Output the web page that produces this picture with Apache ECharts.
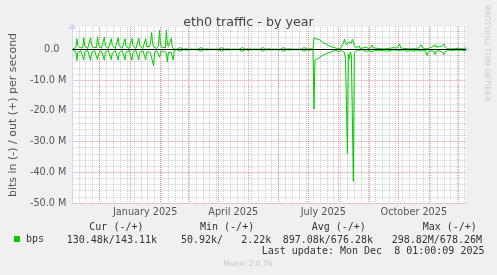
<!DOCTYPE html>
<html><head><meta charset="utf-8">
<script src="https://cdn.jsdelivr.net/npm/echarts@6/dist/echarts.min.js"></script>
<style>html,body{margin:0;padding:0;background:#f0f0f0}#c{width:497px;height:275px}</style>
</head><body><div id="c"></div>
<script>
// daily points, first point = 2024-11-04 00:00 UTC, values in Mbit/s
const firstDay = '2024-11-04T00:00:00Z';
// out (+), Nov 2024 - mid Feb 2025
const outA = [0.2,0.3,0.4,0.6,3.5,1.3,1.1,0.6,0.3,0.2,0.5,
  3.8,1.2,1.0,0.8,0.3,0.2,0.5,
  3.8,1.4,1.2,0.6,0.3,0.3,0.6,
  4.1,1.5,1.6,0.9,0.4,0.3,0.5,
  4.0,1.1,1.0,0.5,0.3,0.2,0.5,
  3.5,1.3,1.2,0.7,0.3,0.2,0.6,
  3.8,1.2,1.1,0.6,0.3,0.3,0.5,
  3.5,1.0,0.9,0.5,0.3,0.2,0.4,
  3.6,1.2,1.0,0.6,0.3,0.2,0.5,
  3.7,1.1,0.9,0.5,0.3,0.2,0.4,
  3.5,1.0,0.8,0.6,0.9,2.5,5.5,
  2.0,0.8,0.5,0.3,0.3,0.5,1.2,
  6.2,1.5,1.0,0.6,0.3,0.3,0.6,
  6.2,1.8,1.0,0.5,0.8,3.7,0.8,0.3,0.1];
const inA = [-0.3,-0.3,-0.5,-0.8,-3.6,-1.0,-1.1,-0.7,-0.4,-0.3,-0.6,
  -3.4,-0.9,-1.2,-0.6,-0.3,-0.3,-0.5,
  -3.5,-1.0,-0.9,-0.7,-0.4,-0.3,-0.6,
  -3.3,-1.4,-1.7,-1.0,-0.5,-0.3,-0.6,
  -3.5,-0.8,-0.9,-0.5,-0.3,-0.3,-0.5,
  -3.3,-1.2,-1.0,-0.6,-0.3,-0.3,-0.6,
  -3.5,-1.1,-0.9,-0.5,-0.3,-0.3,-0.5,
  -3.4,-0.9,-1.0,-0.6,-0.3,-0.2,-0.5,
  -3.5,-1.0,-0.9,-0.5,-0.3,-0.3,-0.6,
  -3.4,-1.0,-0.8,-0.5,-0.3,-0.3,-0.5,
  -3.3,-0.9,-0.7,-0.5,-0.8,-1.5,-2.0,
  -1.8,-5.3,-1.0,-0.5,-0.3,-0.5,-0.9,
  -2.5,-1.2,-0.8,-0.5,-0.3,-0.3,-0.8,
  -1.5,-4.0,-1.0,-0.6,-0.5,-1.0,-1.2,-3.5,-0.3];
// out (+), mid Feb - end Jun 2025 (quiet, weekly blips)
const outB = [0.1,0.1,0.1,0.1,0.2,0.6,0.1, 0.1,0.1,0.1,0.1,0.2,0.6,0.1,
  0.1,0.1,0.1,0.1,0.2,0.6,0.1, 0.1,0.1,0.1,0.1,0.2,0.6,0.1,
  0.1,0.1,0.1,0.1,0.2,0.6,0.1, 0.1,0.1,0.1,0.1,0.2,0.6,0.1,
  0.1,0.1,0.1,0.1,0.2,0.6,0.1, 0.1,0.1,0.1,0.1,0.2,0.6,0.1,
  0.1,0.1,0.1,0.1,0.2,0.6,0.1, 0.1,0.1,0.1,0.1,0.2,0.6,0.1,
  0.1,0.1,0.1,0.1,0.2,0.6,0.1, 0.1,0.1,0.1,0.1,0.2,0.6,0.1,
  0.1,0.1,0.1,0.1,0.2,0.6,0.1, 0.1,0.1,0.1,0.1,0.2,0.6,0.1,
  0.1,0.1,0.1,0.1,0.2,0.6,0.1, 0.1,0.1,0.1,0.1,0.2,0.6,0.1,
  0.1,0.1,0.1,0.1,0.2,0.6,0.1, 0.1,0.1,0.1,0.1,0.2,0.6,0.1,
  0.1,0.1,0.1,0.1,0.2,0.6,0.1, 0.1,0.1,0.1,0.1,0.2,0.6,0.1];
const inB = [-0.1,-0.1,-0.1,-0.1,-0.2,-0.6,-0.1, -0.1,-0.1,-0.1,-0.1,-0.2,-0.6,-0.1,
  -0.1,-0.1,-0.1,-0.1,-0.2,-0.6,-0.1, -0.1,-0.1,-0.1,-0.1,-0.2,-0.6,-0.1,
  -0.1,-0.1,-0.1,-0.1,-0.2,-0.6,-0.1, -0.1,-0.1,-0.1,-0.1,-0.2,-0.6,-0.1,
  -0.1,-0.1,-0.1,-0.1,-0.2,-0.6,-0.1, -0.1,-0.1,-0.1,-0.1,-0.2,-0.6,-0.1,
  -0.1,-0.1,-0.1,-0.1,-0.2,-0.6,-0.1, -0.1,-0.1,-0.1,-0.1,-0.2,-0.6,-0.1,
  -0.1,-0.1,-0.1,-0.1,-0.2,-0.6,-0.1, -0.1,-0.1,-0.1,-0.1,-0.2,-0.6,-0.1,
  -0.1,-0.1,-0.1,-0.1,-0.2,-0.6,-0.1, -0.1,-0.1,-0.1,-0.1,-0.2,-0.6,-0.1,
  -0.1,-0.1,-0.1,-0.1,-0.2,-0.6,-0.1, -0.1,-0.1,-0.1,-0.1,-0.2,-0.6,-0.1,
  -0.1,-0.1,-0.1,-0.1,-0.2,-0.6,-0.1, -0.1,-0.1,-0.1,-0.1,-0.2,-0.6,-0.1,
  -0.1,-0.1,-0.1,-0.1,-0.2,-0.6,-0.1, -0.1,-0.1,-0.1,-0.1,-0.2,-0.6,-0.1];
// out (+), end Jun - Dec 2025
const outC = [0.1,3.7,3.6,3.5,3.4,3.5,3.3,3.1,2.9,2.5,2.2,2.0,1.9,1.8,1.5,1.3,1.2,1.0,0.9,0.8,0.7,0.7,0.6,0.4,0.2,
  0.2,0.6,0.2,0.3,0.2,0.5,2.0,3.4,2.2,1.5,1.8,2.4,2.0,2.6,2.0,3.3,2.4,1.2,0.8,0.5,0.3,
  0.3,1.1,0.3,0.4,0.2,0.5,0.3,0.2,0.7,0.3,
  0.4,0.2,0.3,0.6,1.4,0.5,0.3,0.2,0.4,0.3,
  0.2,0.3,0.7,0.3,0.2,0.4,0.3,0.2,0.4,0.8,
  0.3,0.2,0.3,0.4,0.8,0.3,0.6,0.3,0.2,0.4,
  0.3,0.6,1.8,0.5,0.3,0.2,0.3,0.4,0.2,0.3,
  0.8,0.3,0.2,0.4,0.3,0.2,0.8,0.6,0.3,0.2,
  0.3,0.4,0.3,0.6,1.5,0.9,0.3,0.2,0.3,0.2,
  0.5,0.7,0.4,0.6,0.8,0.8,0.7,0.9,1.5,0.8,
  0.7,0.8,0.9,0.8,0.7,1.0,1.2,1.8,1.0,0.5,
  0.3,0.2,0.4,0.2,0.3,0.6,0.2,0.3,0.2,0.3,
  0.2,0.6,0.3,0.2,0.3,0.2,0.3,0.6,0.2,0.3];
const inC = [-0.1,-19.4,-3.5,-3.3,-3.1,-3.0,-2.6,-2.5,-2.3,-2.0,-1.9,-1.8,-1.6,-1.5,-1.3,-1.2,-1.1,-1.0,-1.0,-0.8,-0.6,-0.5,-0.4,-0.3,-0.2,
  -0.2,-0.6,-0.3,-0.2,-0.4,-0.3,-0.6,-1.0,-3.0,-18.0,-34.0,-1.5,-3.0,-0.8,-2.0,-22.0,-43.0,-1.2,-0.9,-0.6,-0.3,
  -0.3,-0.5,-0.2,-0.4,-0.3,-0.2,-0.4,-0.3,-0.7,-0.2,
  -0.3,-0.4,-0.2,-0.5,-0.8,-0.4,-0.2,-0.3,-0.2,-0.4,
  -0.3,-0.2,-0.7,-0.3,-0.2,-0.3,-0.4,-0.2,-0.3,-0.6,
  -0.3,-0.2,-0.4,-0.3,-0.6,-0.2,-0.6,-0.3,-0.2,-0.3,
  -0.4,-0.3,-0.8,-0.5,-0.3,-0.2,-0.3,-0.2,-0.4,-0.3,
  -0.7,-0.2,-0.3,-0.2,-0.4,-0.3,-0.6,-0.5,-0.2,-0.3,
  -0.2,-0.3,-0.4,-0.6,-0.9,-0.5,-0.3,-0.2,-0.3,-0.8,
  -2.0,-0.9,-0.5,-0.4,-0.4,-0.5,-0.4,-0.6,-1.7,-0.6,
  -0.4,-0.5,-0.4,-0.5,-0.4,-0.7,-1.0,-1.7,-0.9,-0.4,
  -0.3,-0.2,-0.3,-0.2,-0.3,-0.6,-0.2,-0.3,-0.2,-0.3,
  -0.2,-0.6,-0.3,-0.2,-0.3,-0.2,-0.3,-0.6,-0.2,-0.3];

const xLabels = ['January 2025','April 2025','July 2025','October 2025'];
const xLabelDates = ['2025-01-16T12:00:00Z','2025-04-16T00:00:00Z','2025-07-16T12:00:00Z','2025-10-16T12:00:00Z'];
const monthStarts = ['2024-12-01','2025-01-01','2025-02-01','2025-03-01','2025-04-01','2025-05-01','2025-06-01',
  '2025-07-01','2025-08-01','2025-09-01','2025-10-01','2025-11-01','2025-12-01'];
const yMajor = [-50,-40,-30,-20,-10,0];
const yMin = -50, yMax = 7.3;
const statHeads = ['Cur (-/+)','Min (-/+)','Avg (-/+)','Max (-/+)'];
const statVals = ['130.48k/143.11k','50.92k/   2.22k','897.08k/676.28k','298.82M/678.26M'];
const lastUpdate = 'Last update: Mon Dec  8 01:00:09 2025';

const outV = outA.concat(outB, outC), inV = inA.concat(inB, inC);
if (outV.length !== 400 || inV.length !== 400) throw new Error('len ' + outV.length + ' ' + inV.length);
const DAY = 86400000, t0 = Date.parse(firstDay);
const outData = outV.map((v, i) => [t0 + i * DAY, v]);
const inData = inV.map((v, i) => [t0 + i * DAY, v]);
const xMin = t0 - DAY / 2, xMax = xMin + 400 * DAY;
const monthTs = monthStarts.map(d => Date.parse(d + 'T00:00:00Z'));
const labelTs = xLabelDates.map(d => Date.parse(d));
const weekTs = [];
for (let t = Date.parse('2024-11-10T00:00:00Z'); t < xMax; t += 7 * DAY) weekTs.push(t);
const yMinor = [];
for (let v = -48; v <= 6; v += 2) if (v % 10 !== 0) yMinor.push(v);

const FONT = 'DejaVu Sans';
const MONO = 'DejaVu Sans Mono';
const red = 'rgba(222,79,79,0.6)', grey = 'rgba(143,143,143,0.45)', axisCol = '#CFD6F8';

const chart = echarts.init(document.getElementById('c'), null, {renderer: 'canvas'});
const gridPos = {left: 66, right: 31, top: 27, bottom: 72};
chart.setOption({
  animation: false,
  backgroundColor: '#f0f0f0',
  title: {text: 'eth0 traffic - by year', left: 'center', top: 11,
    textStyle: {fontFamily: FONT, fontSize: 12.7, fontWeight: 'normal', color: '#444'}},
  legend: {data: ['bps'], left: 14, top: 234, padding: 0, icon: 'rect', itemWidth: 6, itemHeight: 6, itemGap: 5,
    textStyle: {fontFamily: MONO, fontSize: 10, color: '#333', padding: [0, 0, 0, 1]}},
  grid: Object.assign({show: true, backgroundColor: '#ffffff', borderWidth: 0}, gridPos),
  xAxis: [
    {type: 'value', min: xMin, max: xMax, position: 'bottom',
      axisLine: {show: true, lineStyle: {color: axisCol}, symbol: ['none', 'arrow'], symbolSize: [7, 7], symbolOffset: [0, 4]},
      axisTick: {show: true, customValues: monthTs, length: 2, lineStyle: {color: red}},
      axisLabel: {customValues: labelTs, margin: 4, fontFamily: FONT, fontSize: 9.7, color: '#555',
        formatter: v => { const k = labelTs.indexOf(v); return k >= 0 ? xLabels[k] : ''; }},
      splitLine: {show: true, lineStyle: {color: red, type: [1, 1], width: 1}}, z: 3},
    {type: 'value', min: xMin, max: xMax, position: 'bottom', gridIndex: 0,
      axisLine: {show: false}, axisLabel: {show: false},
      axisTick: {show: false, customValues: weekTs},
      splitLine: {show: true, lineStyle: {color: grey, type: [1, 1], width: 1}}, z: 1}
  ],
  yAxis: [
    {type: 'value', min: yMin, max: yMax,
      name: 'bits in (-) / out (+) per second', nameLocation: 'middle', nameGap: 53, nameRotate: 90,
      nameTextStyle: {fontFamily: FONT, fontSize: 11, color: '#555'},
      axisLine: {show: true, lineStyle: {color: axisCol}, symbol: ['none', 'arrow'], symbolSize: [7, 7], symbolOffset: [0, 4]},
      axisTick: {show: false, customValues: yMajor},
      axisLabel: {customValues: yMajor, margin: 6, fontFamily: FONT, fontSize: 9.7, color: '#555',
        formatter: v => v === 0 ? '{z|0.0}' : v.toFixed(1) + ' M',
        rich: {z: {fontFamily: FONT, fontSize: 9.7, color: '#555', padding: [0, 7, 0, 0]}}},
      splitLine: {show: true, lineStyle: {color: red, type: [1, 1], width: 1}}, z: 3},
    {type: 'value', min: yMin, max: yMax, axisLine: {show: false}, axisLabel: {show: false},
      axisTick: {show: false, customValues: yMinor},
      splitLine: {show: true, lineStyle: {color: grey, type: [1, 1], width: 1}}, z: 1}
  ],
  series: [
    {name: 'bps_in', type: 'line', data: inData, showSymbol: false, symbol: 'none', z: 4,
      lineStyle: {color: '#00cc00', width: 1}, itemStyle: {color: '#00cc00'}},
    {name: 'bps', type: 'line', data: outData, showSymbol: false, symbol: 'none', z: 5,
      lineStyle: {color: '#00cc00', width: 1}, itemStyle: {color: '#00cc00'},
      markLine: {silent: true, symbol: 'none', label: {show: false}, z: 6,
        lineStyle: {color: '#000000', width: 1, type: 'solid'}, data: [{yAxis: 0}]}}
  ],
  graphic: [
    ...statHeads.map((s, k) => ({type: 'text', x: [89.3, 200, 311.7, 422.7][k], y: 227.3,
      style: {text: s, font: '10px "' + MONO + '"', fill: '#333', verticalAlign: 'middle'}})),
    ...statVals.map((s, k) => ({type: 'text', x: [66.7, 181, 282.7, 391.7][k], y: 240,
      style: {text: s, font: '10px "' + MONO + '"', fill: '#333', verticalAlign: 'middle'}})),
    {type: 'text', x: 261.7, y: 251.7, style: {text: lastUpdate, font: '10px "' + MONO + '"', fill: '#333', verticalAlign: 'middle'}},
    {type: 'text', x: 248, y: 264, style: {text: 'Munin 2.0.76', font: '7.5px "' + FONT + '"', fill: '#c4c4c4', align: 'center', verticalAlign: 'middle'}},
    {type: 'text', x: 487, y: 5, rotation: -Math.PI / 2,
      style: {text: 'RRDTOOL/ TOBI OETIKER', font: '7.7px "' + FONT + '"', fill: '#cccccc', align: 'left', verticalAlign: 'middle'}}
  ]
});
</script></body></html>
